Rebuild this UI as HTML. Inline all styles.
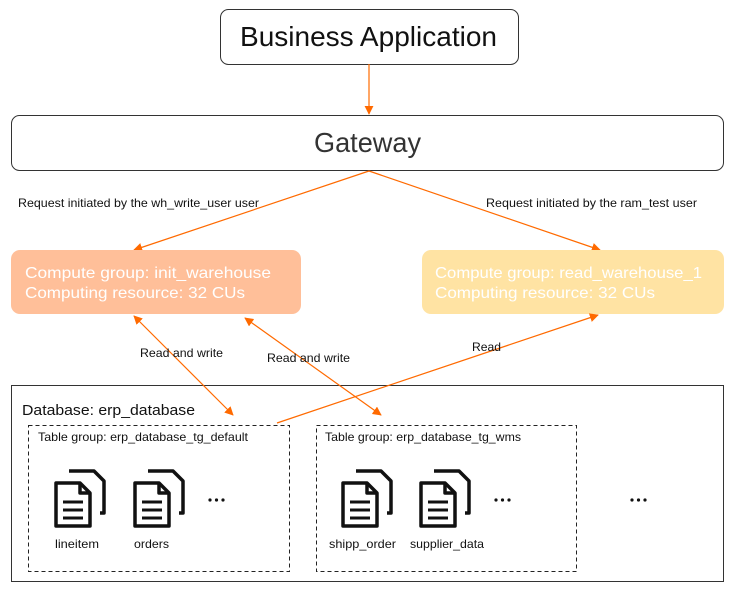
<!DOCTYPE html>
<html><head><meta charset="utf-8"><style>html,body{margin:0;padding:0;background:#fff}svg{display:block}text{font-family:"Liberation Sans",sans-serif}</style></head>
<body>
<svg width="735" height="591" viewBox="0 0 735 591" xmlns="http://www.w3.org/2000/svg">
<defs>
<marker id="a" viewBox="0 0 10 10" refX="9" refY="5" markerWidth="9" markerHeight="9" orient="auto-start-reverse" markerUnits="userSpaceOnUse"><path d="M0,0 L10,5 L0,10 z" fill="#ff6a00"/></marker>
<g id="doc" fill="none" stroke="#111" stroke-width="3.5" stroke-linejoin="round">
<path d="M15,1 H40 L50,11 V43 H46"/>
<path d="M2,13 H26 L36,23 V56 H2 Z"/>
<path d="M26,13 V23 H36"/>
<path d="M9,32 H29 M9,40 H29 M9,48 H29" stroke-width="3"/>
</g>
</defs>
<rect x="220.5" y="9.5" width="298" height="55" rx="8" fill="#fff" stroke="#333"/>
<text x="240" y="46" font-size="28" fill="#111" textLength="257" lengthAdjust="spacingAndGlyphs">Business Application</text>
<line x1="369" y1="64" x2="369" y2="114" stroke="#ff6a00" stroke-width="1.2" marker-end="url(#a)"/>
<rect x="11.5" y="115.5" width="712" height="55" rx="8" fill="#fff" stroke="#333"/>
<text x="314" y="152" font-size="28" fill="#333" textLength="107" lengthAdjust="spacingAndGlyphs">Gateway</text>
<line x1="369" y1="171" x2="134" y2="250" stroke="#ff6a00" stroke-width="1.2" marker-end="url(#a)"/>
<line x1="369" y1="171" x2="600" y2="250" stroke="#ff6a00" stroke-width="1.2" marker-end="url(#a)"/>
<text x="18" y="207" font-size="12" fill="#111" textLength="241" lengthAdjust="spacingAndGlyphs">Request initiated by the wh_write_user user</text>
<text x="486" y="207" font-size="12" fill="#111" textLength="211" lengthAdjust="spacingAndGlyphs">Request initiated by the ram_test user</text>
<rect x="11" y="250" width="290" height="64" rx="9" fill="#ffbf99"/>
<text x="25" y="278" font-size="16" fill="#fff" textLength="246" lengthAdjust="spacingAndGlyphs">Compute group: init_warehouse</text>
<text x="25" y="298" font-size="16" fill="#fff" textLength="220" lengthAdjust="spacingAndGlyphs">Computing resource: 32 CUs</text>
<rect x="422" y="250" width="302" height="64" rx="9" fill="#ffe3a3"/>
<text x="435" y="278" font-size="16" fill="#fff" textLength="267" lengthAdjust="spacingAndGlyphs">Compute group: read_warehouse_1</text>
<text x="435" y="298" font-size="16" fill="#fff" textLength="220" lengthAdjust="spacingAndGlyphs">Computing resource: 32 CUs</text>
<rect x="11.5" y="385.5" width="712" height="196" fill="#fff" stroke="#333"/>
<line x1="134" y1="316" x2="233" y2="415" stroke="#ff6a00" stroke-width="1.2" marker-start="url(#a)" marker-end="url(#a)"/>
<line x1="245" y1="318" x2="381" y2="415" stroke="#ff6a00" stroke-width="1.2" marker-start="url(#a)" marker-end="url(#a)"/>
<line x1="277" y1="423" x2="598" y2="315" stroke="#ff6a00" stroke-width="1.2" marker-end="url(#a)"/>
<text x="140" y="357" font-size="12" fill="#111" textLength="83" lengthAdjust="spacingAndGlyphs">Read and write</text>
<text x="267" y="362" font-size="12" fill="#111" textLength="83" lengthAdjust="spacingAndGlyphs">Read and write</text>
<text x="472" y="351" font-size="12" fill="#111" textLength="29" lengthAdjust="spacingAndGlyphs">Read</text>
<text x="22" y="415" font-size="15" fill="#111" textLength="173" lengthAdjust="spacingAndGlyphs">Database: erp_database</text>
<rect x="28.5" y="425.5" width="261" height="146" fill="none" stroke="#222" stroke-dasharray="4,3"/>
<rect x="316.5" y="425.5" width="260" height="146" fill="none" stroke="#222" stroke-dasharray="4,3"/>
<text x="38" y="441" font-size="12" fill="#111" textLength="210" lengthAdjust="spacingAndGlyphs">Table group: erp_database_tg_default</text>
<text x="325" y="441" font-size="12" fill="#111" textLength="196" lengthAdjust="spacingAndGlyphs">Table group: erp_database_tg_wms</text>
<use href="#doc" x="54" y="470"/>
<use href="#doc" x="133" y="470"/>
<use href="#doc" x="341" y="470"/>
<use href="#doc" x="419" y="470"/>
<text x="55" y="548" font-size="12" fill="#111" textLength="44" lengthAdjust="spacingAndGlyphs">lineitem</text>
<text x="134" y="548" font-size="12" fill="#111" textLength="35" lengthAdjust="spacingAndGlyphs">orders</text>
<text x="329" y="548" font-size="12" fill="#111" textLength="67" lengthAdjust="spacingAndGlyphs">shipp_order</text>
<text x="410" y="548" font-size="12" fill="#111" textLength="74" lengthAdjust="spacingAndGlyphs">supplier_data</text>
<g fill="#111"><circle cx="210" cy="500" r="1.6"/><circle cx="216.5" cy="500" r="1.6"/><circle cx="223" cy="500" r="1.6"/>
<circle cx="496" cy="500" r="1.6"/><circle cx="502.5" cy="500" r="1.6"/><circle cx="509" cy="500" r="1.6"/>
<circle cx="632" cy="500" r="1.6"/><circle cx="638.5" cy="500" r="1.6"/><circle cx="645" cy="500" r="1.6"/></g>
</svg>
</body></html>
